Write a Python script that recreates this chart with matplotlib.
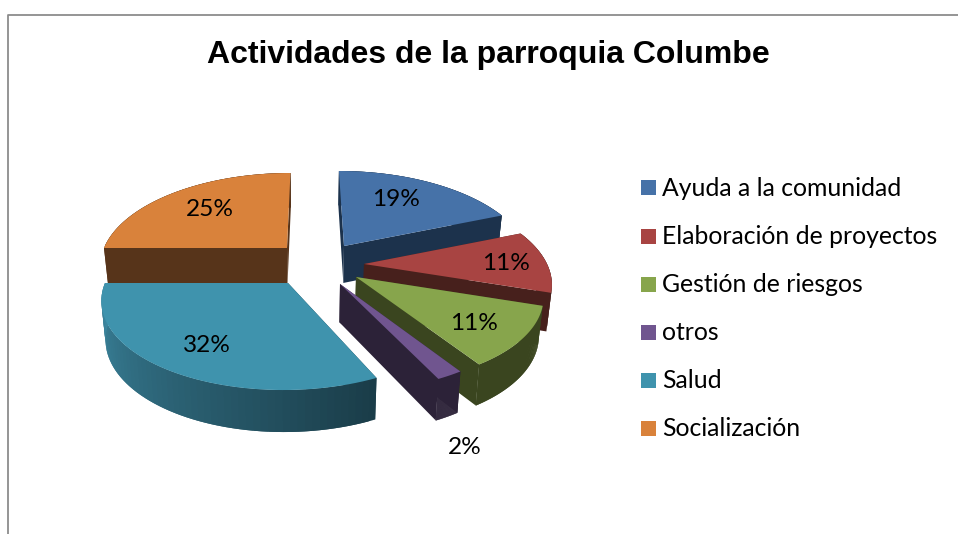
import numpy as np
import matplotlib
matplotlib.use('Agg')
import matplotlib.pyplot as plt
from matplotlib.patches import Polygon, Rectangle

# Data
categories = ['Ayuda a la comunidad', 'Elaboración de proyectos', 'Gestión de riesgos',
              'otros', 'Salud', 'Socialización']
values = [19, 11, 11, 2, 32, 25]
labels = ['19%', '11%', '11%', '2%', '32%', '25%']

# Styles
top_colors = ['#4672a8', '#a84442', '#87a54c', '#70558f', '#3f93ad', '#d9823b']
side_colors = ['#1c324c', '#47201c', '#3a451f', '#2c2238', '#1a3c48', '#57341a']
rim_left = ['#1c324c', '#47201c', '#3a451f', '#2c2238', '#3d89a2', '#57341a']

# Layout in pixels: where each exploded slice has its point, and label centres
apex = [(344, 246), (364, 264), (356, 277), (340, 284), (288, 283), (287, 248)]
label_pos = [(396, 200), (506, 263), (474, 323), (465, 447), (207, 345), (210, 209)]
legend_y = [187, 236, 284, 332, 380, 428]

RX = 183
PERSP = 0.176
RY = 88.2
CENTER_X = 310


def top_point(a, theta):
    s, c = np.sin(theta), np.cos(theta)
    den = 1 + PERSP * c
    x = a[0] + RX * s / den + (a[0] - CENTER_X) * (1 / den - 1)
    y = a[1] - RY * c / den
    return np.array([x, y])


def drop(p):
    # the lower edge of the extruded pie, deeper towards the viewer
    depth = 37 + 0.035 * (p[1] - 247)
    return np.array([CENTER_X + (p[0] - CENTER_X) * 0.98, p[1] + depth])


def mix(c1, c2, t):
    a = np.array(matplotlib.colors.to_rgb(c1))
    b = np.array(matplotlib.colors.to_rgb(c2))
    return tuple(a + (b - a) * t)


fig = plt.figure(figsize=(9.58, 5.34), dpi=100)
ax = fig.add_axes([0, 0, 1, 1])
ax.set_xlim(0, 958)
ax.set_ylim(534, 0)
ax.axis('off')

# Chart frame
ax.plot([8.5, 8.5, 958], [534, 15, 15], color='#8c8c8c', lw=1.3)

ax.text(488, 55, 'Actividades de la parroquia Columbe', fontsize=23, fontweight='bold',
        family='Liberation Sans', ha='center', va='center', color='black')

ends = np.cumsum(values) / np.sum(values) * 2 * np.pi
starts = np.concatenate(([0], ends[:-1]))

order = [5, 0, 1, 2, 3, 4]
for k, i in enumerate(order):
    a = np.array(apex[i], dtype=float)
    thetas = np.linspace(starts[i], ends[i], 60)
    rim = np.array([top_point(a, t) for t in thetas])
    z = 2 + k * 0.1

    # Cut faces
    for p in (rim[0], rim[-1]):
        face = [a, p, drop(p), drop(a)]
        ax.add_patch(Polygon(face, closed=True, fc=side_colors[i], ec='none', zorder=z))

    # Outer wall: each strip runs on under the next one so no seams show
    for j in range(len(rim) - 1):
        t = (j + 0.5) / (len(rim) - 1)
        col = mix(side_colors[i], rim_left[i], t)
        e = min(j + 2, len(rim) - 1)
        quad = np.vstack([rim[j:e + 1], [drop(p) for p in rim[j:e + 1]][::-1]])
        ax.add_patch(Polygon(quad, closed=True, fc=col, ec='none', zorder=z))

    # Top surface
    ax.add_patch(Polygon(np.vstack([a, rim]), closed=True, fc=top_colors[i], ec='none',
                         zorder=z + 0.05))

for lab, pos in zip(labels, label_pos):
    ax.text(pos[0], pos[1], lab, fontsize=17.6, family='Lato', ha='center', va='center',
            color='black', zorder=5)

# Legend
for cat, col, y in zip(categories, top_colors, legend_y):
    ax.add_patch(Rectangle((641, y - 7.5), 15, 15, fc=col, ec='none'))
    ax.text(662, y + 1, cat, fontsize=17.8, family='Lato', ha='left', va='center', color='black')

fig.savefig('out.png', dpi=100)
